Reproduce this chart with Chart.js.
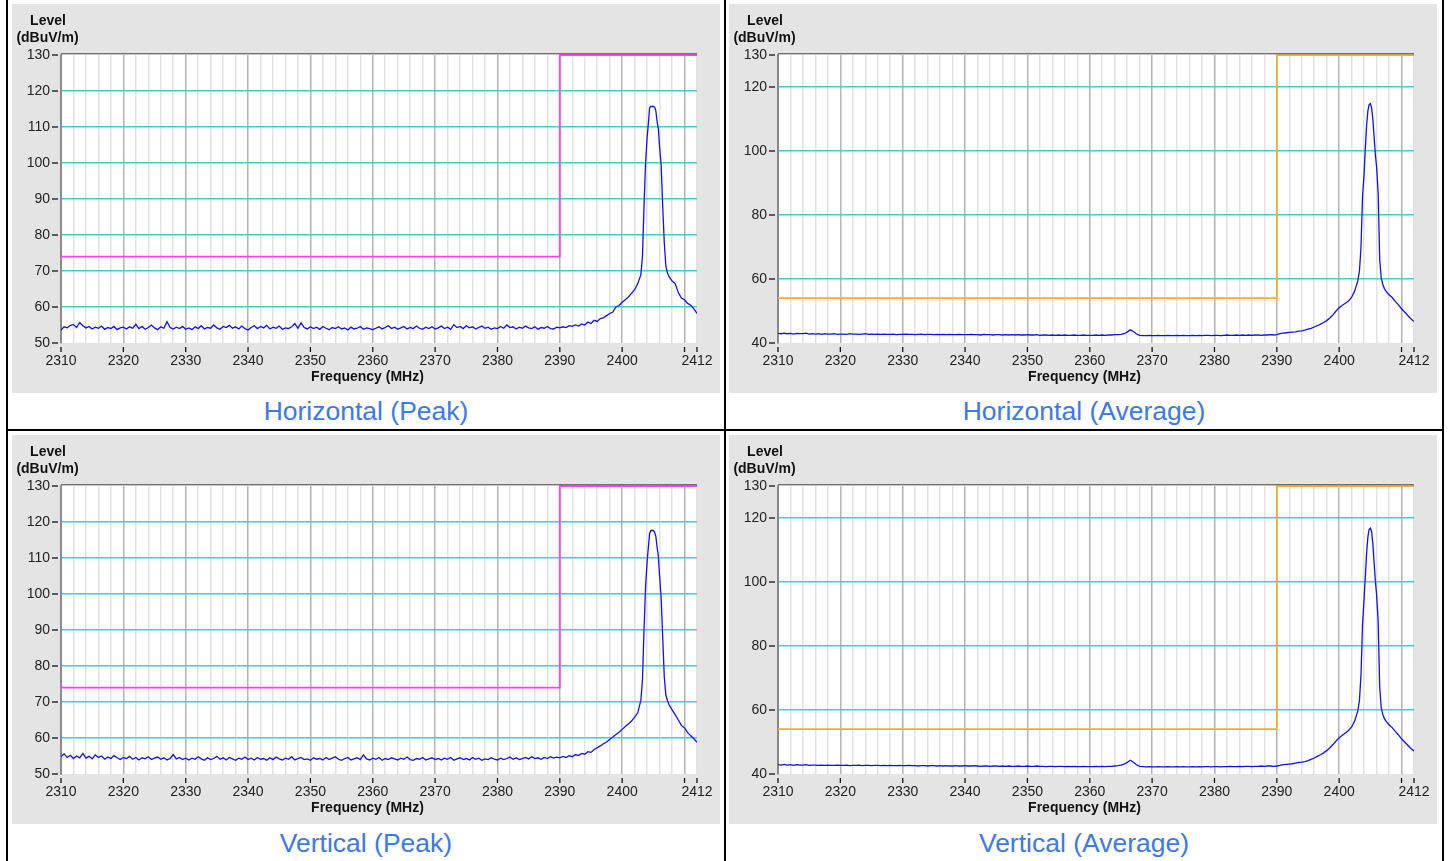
<!DOCTYPE html>
<html>
<head>
<meta charset="utf-8">
<script src="https://cdn.jsdelivr.net/npm/chart.js@4.4.1/dist/chart.umd.min.js"></script>
<style>
  body { margin: 0; width: 1450px; height: 861px; background: #fff; position: relative; overflow: hidden; font-family: "Liberation Sans", Arial, sans-serif; }
  .panel { position: absolute; width: 708px; height: 389px; background: #e4e4e4; }
  .caption { position: absolute; width: 716px; height: 36px; line-height: 36px; text-align: center; font-size: 26.5px; color: #3c78f0; }
  .rule { position: absolute; background: #000; }
</style>
</head>
<body>
<div class="rule" style="left:6px;top:0;width:2px;height:861px"></div>
<div class="rule" style="left:724px;top:0;width:2px;height:861px"></div>
<div class="rule" style="left:1442px;top:0;width:2px;height:861px"></div>
<div class="rule" style="left:6px;top:429px;width:1438px;height:2px"></div>

<div class="panel" style="left:12px;top:4px"><canvas id="hPeak" width="708" height="389"></canvas></div>
<div class="panel" style="left:729px;top:4px"><canvas id="hAvg" width="708" height="389"></canvas></div>
<div class="panel" style="left:12px;top:435px"><canvas id="vPeak" width="708" height="389"></canvas></div>
<div class="panel" style="left:729px;top:435px"><canvas id="vAvg" width="708" height="389"></canvas></div>

<div class="caption" style="left:8px;top:393px">Horizontal (Peak)</div>
<div class="caption" style="left:726px;top:393px">Horizontal (Average)</div>
<div class="caption" style="left:8px;top:825px">Vertical (Peak)</div>
<div class="caption" style="left:726px;top:825px">Vertical (Average)</div>

<script>
// sweep 2310..2402 MHz in 0.5 MHz steps, then the carrier region listed point by point
const sweepStart = 2310;
const sweepStep = 0.5;
const peakFreq = [2402.5, 2403, 2403.25, 2403.5, 2403.75, 2404, 2404.2, 2404.4, 2404.6, 2404.8,
  2405, 2405.2, 2405.4, 2405.6, 2405.8, 2406, 2406.25, 2406.5, 2406.75, 2407,
  2407.25, 2407.5, 2408, 2408.5, 2409, 2409.5, 2410, 2410.5, 2411, 2411.5, 2412];

// Horizontal peak (dBuV/m)
const hpLow = [
  53.6, 54.5, 54.2, 54.9, 55.1, 54.3, 55.7, 54.8, 54.2, 54.6, 53.9, 54.4, 54.1, 54.7, 53.8, 54.3, 54.0, 54.6, 53.7, 54.2, 54.4,
  53.9, 54.5, 54.1, 55.2, 54.0, 54.6, 53.8, 54.3, 55.0, 54.2, 53.7, 54.5, 54.1, 55.9, 54.3, 53.9, 54.4, 54.0, 54.6, 53.8,
  54.2, 53.7, 54.5, 54.0, 54.8, 53.9, 54.3, 54.1, 55.0, 54.2, 53.8, 54.6, 54.3, 54.9, 54.1, 54.5, 53.9, 54.7, 54.0, 53.6,
  54.3, 54.8, 54.0, 54.6, 54.2, 54.9, 53.9, 54.4, 54.1, 54.7, 53.8, 54.2, 54.0, 54.5, 55.4, 54.1, 55.6, 54.3, 53.9, 54.5,
  54.0, 54.4, 53.8, 54.6, 54.1, 53.7, 54.3, 54.0, 54.5, 53.9, 54.2, 53.6, 54.4, 53.9, 54.1, 54.6, 53.8, 54.2, 54.0, 53.7,
  54.1, 54.5, 53.9, 54.3, 54.8, 54.0, 54.4, 53.8, 54.2, 54.6, 53.9, 54.3, 54.0, 54.7, 54.1, 53.8, 54.4, 54.0, 54.5, 53.9,
  54.2, 54.7, 54.0, 54.4, 53.8, 55.1, 54.3, 54.6, 54.0, 54.8, 54.2, 54.5, 53.9, 54.3, 54.7, 54.1, 54.4, 53.8, 54.2, 54.0,
  54.6, 54.1, 55.0, 54.3, 54.5, 53.9, 54.4, 54.1, 54.7, 54.2, 54.0, 54.5, 53.8, 54.3, 54.1, 54.6, 54.0, 53.9, 54.4, 54.2,
  54.5, 54.3, 54.8, 54.6, 55.0, 54.7, 55.3, 55.0, 55.8, 55.4, 56.3, 56.0, 56.8, 57.0, 57.6, 58.2, 58.6, 60.0, 60.4, 61.3,
  62.0, 62.8, 63.8, 64.8];
const hpPeak = [66.5, 69, 74, 88, 100, 107, 111, 115.3, 115.7, 115.7,
  115.7, 115.5, 114.5, 111.5, 109.5, 104.5, 99.5, 88, 78, 71.5,
  69.5, 68.5, 67.2, 66.5, 64, 62.5, 62, 61, 60.5, 59.5, 58.2];

// Horizontal average
const haLow = [
  43.0, 42.9, 43.1, 42.9, 43.0, 42.8, 43.0, 42.9, 42.9, 43.1, 42.8, 42.9, 42.8, 42.9, 42.7, 42.9, 42.8, 42.8, 42.9, 42.7, 42.8,
  42.8, 42.7, 42.9, 42.8, 42.8, 42.7, 42.8, 42.9, 42.7, 42.8, 42.7, 42.8, 42.7, 42.8, 42.7, 42.7, 42.8, 42.6, 42.7, 42.7,
  42.8, 42.7, 42.7, 42.6, 42.7, 42.8, 42.6, 42.7, 42.7, 42.6, 42.7, 42.6, 42.7, 42.6, 42.7, 42.6, 42.6, 42.7, 42.6, 42.6,
  42.6, 42.7, 42.6, 42.6, 42.5, 42.7, 42.6, 42.6, 42.5, 42.6, 42.6, 42.5, 42.6, 42.5, 42.6, 42.5, 42.6, 42.5, 42.5, 42.6,
  42.5, 42.5, 42.6, 42.4, 42.5, 42.5, 42.4, 42.5, 42.4, 42.5, 42.4, 42.5, 42.4, 42.4, 42.5, 42.4, 42.4, 42.5, 42.4, 42.4,
  42.4, 42.5, 42.4, 42.5, 42.4, 42.5, 42.5, 42.6, 42.6, 42.7, 42.9, 43.4, 44.1, 43.6, 42.8, 42.4, 42.3, 42.3, 42.4, 42.3,
  42.3, 42.4, 42.3, 42.3, 42.4, 42.3, 42.3, 42.4, 42.3, 42.4, 42.3, 42.3, 42.4, 42.3, 42.4, 42.3, 42.4, 42.4, 42.3, 42.4,
  42.4, 42.3, 42.4, 42.5, 42.4, 42.4, 42.5, 42.4, 42.5, 42.4, 42.5, 42.4, 42.5, 42.5, 42.4, 42.5, 42.5, 42.6, 42.5, 42.6,
  42.9, 43.1, 43.2, 43.3, 43.4, 43.5, 43.7, 43.8, 44.0, 44.3, 44.6, 45.0, 45.4, 45.9, 46.4, 47.0, 47.8, 48.8, 50.0, 51.0,
  51.8, 52.4, 53.1, 54.3];
const haPeak = [56.3, 59.5, 62.5, 70, 86, 93, 101, 108, 112.5, 114.5,
  114.8, 113.5, 110, 104.5, 99, 95, 87, 66, 60.3, 58.3,
  57.0, 56.2, 55.1, 54.2, 53.0, 51.9, 50.7, 49.7, 48.6, 47.6, 46.7];

// Vertical peak
const vpLow = [
  54.8, 55.6, 54.6, 55.2, 54.3, 55.0, 54.5, 55.7, 54.4, 54.9, 54.2, 55.3, 54.6, 55.0, 54.1, 54.7, 54.3, 55.1, 54.5, 54.0, 54.6,
  54.3, 54.9, 54.1, 54.6, 53.9, 54.5, 54.2, 54.8, 54.0, 54.4, 54.7, 54.1, 54.5, 53.9, 54.3, 55.4, 54.2, 54.6, 54.0, 54.4,
  53.9, 54.4, 54.1, 54.8, 54.2, 53.8, 54.5, 54.0, 54.3, 54.9, 54.1, 54.5, 53.9, 54.6, 54.2, 53.8, 54.4, 54.1, 54.7, 54.0,
  54.4, 53.9, 54.6, 54.1, 54.3, 53.8, 54.5, 54.0, 54.7, 54.2, 53.9, 54.4, 54.1, 54.8, 53.9, 54.3, 54.6, 54.0, 54.2, 53.8,
  54.5, 54.1, 54.3, 53.9, 54.6, 54.0, 54.4, 54.8, 54.1, 53.8, 54.3, 54.6, 53.9, 54.2, 54.5, 54.0, 55.3, 54.2, 53.9, 54.4,
  54.1, 54.6, 53.8, 54.3, 54.0, 54.5, 54.2, 53.9, 54.4, 54.1, 54.7, 54.0, 53.8, 54.3, 54.1, 54.6, 53.9, 54.2, 54.5, 54.0,
  54.3, 53.9, 54.4, 54.1, 54.6, 53.8, 54.2, 54.5, 54.0, 54.3, 53.9, 54.6, 54.1, 54.4, 53.8, 54.2, 54.0, 54.5, 54.1, 53.9,
  54.4, 54.0, 54.3, 54.7, 54.1, 54.5, 54.0, 54.3, 54.6, 54.2, 54.8, 54.3, 54.5, 54.1, 54.6, 54.3, 54.8, 54.4, 54.7, 54.5,
  54.9, 54.6, 55.1, 54.8, 55.4, 55.1, 55.7, 55.5, 56.2, 56.0, 56.8, 57.3, 57.8, 58.4, 58.9, 59.6, 60.3, 61.0, 61.6, 62.4,
  63.2, 63.9, 64.7, 65.8];
const vpPeak = [67, 70.5, 76, 90, 102, 109, 113, 116.8, 117.6, 117.7,
  117.6, 117.2, 116, 113, 110.5, 105, 99, 88, 77, 72,
  70.5, 69.3, 67.8, 66.5, 65, 63.5, 62.8, 61.5, 60.6, 59.8, 58.8];

// Vertical average
const vaLow = [
  42.9, 42.8, 43.0, 42.8, 42.9, 42.7, 42.9, 42.8, 42.8, 42.9, 42.7, 42.8, 42.8, 42.7, 42.8, 42.7, 42.8, 42.7, 42.7, 42.8, 42.7,
  42.7, 42.8, 42.6, 42.7, 42.7, 42.8, 42.6, 42.7, 42.7, 42.6, 42.7, 42.7, 42.6, 42.7, 42.6, 42.7, 42.6, 42.6, 42.7, 42.6,
  42.6, 42.7, 42.6, 42.6, 42.5, 42.6, 42.6, 42.5, 42.6, 42.6, 42.5, 42.6, 42.5, 42.6, 42.5, 42.5, 42.6, 42.5, 42.5, 42.6,
  42.5, 42.5, 42.6, 42.5, 42.4, 42.5, 42.5, 42.4, 42.5, 42.5, 42.4, 42.5, 42.4, 42.5, 42.4, 42.4, 42.5, 42.4, 42.4, 42.5,
  42.4, 42.4, 42.5, 42.4, 42.4, 42.3, 42.4, 42.4, 42.3, 42.4, 42.4, 42.3, 42.4, 42.3, 42.4, 42.3, 42.3, 42.4, 42.3, 42.3,
  42.3, 42.4, 42.3, 42.4, 42.3, 42.4, 42.4, 42.5, 42.6, 42.8, 43.1, 43.6, 44.3, 43.7, 42.9, 42.4, 42.3, 42.2, 42.3, 42.2,
  42.2, 42.3, 42.2, 42.2, 42.3, 42.2, 42.2, 42.3, 42.2, 42.3, 42.2, 42.2, 42.3, 42.2, 42.3, 42.2, 42.3, 42.3, 42.2, 42.3,
  42.3, 42.2, 42.3, 42.3, 42.4, 42.3, 42.3, 42.4, 42.3, 42.4, 42.4, 42.3, 42.4, 42.4, 42.5, 42.4, 42.5, 42.5, 42.4, 42.5,
  42.7, 42.9, 43.0, 43.1, 43.2, 43.4, 43.6, 43.7, 43.9, 44.2, 44.6, 45.0, 45.5, 46.0, 46.6, 47.3, 48.2, 49.2, 50.3, 51.3,
  52.1, 52.8, 53.6, 54.7];
const vaPeak = [56.6, 59.8, 63.0, 71, 87, 95, 102, 109, 114, 116.4,
  116.8, 115.8, 112, 106, 100.5, 96, 88, 67, 60.6, 58.6,
  57.3, 56.5, 55.4, 54.5, 53.3, 52.2, 51.0, 50.0, 49.0, 48.0, 47.2];

// limit lines
const limitFreq = [2310, 2390, 2390, 2412];
const peakLimit = [74, 74, 130, 130];
const avgLimit = [54, 54, 130, 130];

// axes
const xGridValues = [];
for (let f = 2310; f <= 2412; f += 2) xGridValues.push(f);
const xLabelValues = [2310, 2320, 2330, 2340, 2350, 2360, 2370, 2380, 2390, 2400, 2412];
const xMarkValues = xLabelValues.concat([2410]);
const peakYTicks = [50, 60, 70, 80, 90, 100, 110, 120, 130];
const avgYTicks = [40, 60, 80, 100, 120, 130];

Chart.defaults.font.family = '"Liberation Sans", Arial, sans-serif';

function trace(low, peak) {
  const pts = low.map((v, i) => ({ x: sweepStart + i * sweepStep, y: v }));
  return pts.concat(peak.map((v, i) => ({ x: peakFreq[i], y: v })));
}

// white plot area, top frame line, tick marks and axis titles
const frame = {
  id: 'frame',
  beforeDraw(chart) {
    const { ctx, chartArea: a } = chart;
    ctx.save();
    ctx.fillStyle = '#fff';
    ctx.fillRect(a.left, a.top, a.right - a.left, a.bottom - a.top);
    ctx.restore();
  },
  afterDraw(chart) {
    const { ctx, chartArea: a, scales } = chart;
    ctx.save();
    ctx.strokeStyle = '#707070';
    ctx.lineWidth = 1.2;
    ctx.beginPath(); ctx.moveTo(a.left, a.top - 1.4); ctx.lineTo(a.right, a.top - 1.4); ctx.stroke();
    ctx.strokeStyle = '#111';
    ctx.lineWidth = 1.3;
    scales.y.ticks.forEach(t => {
      const y = scales.y.getPixelForValue(t.value);
      ctx.beginPath(); ctx.moveTo(a.left - 9, y); ctx.lineTo(a.left - 3, y); ctx.stroke();
    });
    xMarkValues.forEach(v => {
      const x = scales.x.getPixelForValue(v);
      ctx.beginPath(); ctx.moveTo(x, a.bottom + 4); ctx.lineTo(x, a.bottom + 9); ctx.stroke();
    });
    ctx.fillStyle = '#111';
    ctx.font = 'bold 14px "Liberation Sans", Arial, sans-serif';
    ctx.textAlign = 'center';
    ctx.textBaseline = 'middle';
    ctx.fillText('Level', 36, 17.5);
    ctx.fillText('(dBuV/m)', 35.5, 34.5);
    ctx.fillText('Frequency (MHz)', 355.5, 373.5);
    ctx.restore();
  }
};

function makeChart(id, low, peak, limit, limitColor, yMin, yTicks) {
  return new Chart(document.getElementById(id), {
    type: 'line',
    data: {
      datasets: [
        { data: trace(low, peak), borderColor: '#1010ff', borderWidth: 1.3, pointRadius: 0, tension: 0 },
        { data: limitFreq.map((f, i) => ({ x: f, y: limit[i] })), borderColor: limitColor, borderWidth: 1.8, pointRadius: 0, clip: false }
      ]
    },
    options: {
      responsive: false,
      animation: false,
      events: [],
      layout: { padding: { top: 51, right: 23, left: 0, bottom: 0 } },
      plugins: { legend: { display: false }, tooltip: { enabled: false } },
      scales: {
        x: {
          type: 'linear', min: 2310, max: 2412,
          afterBuildTicks: s => { s.ticks = xGridValues.map(v => ({ value: v })); },
          afterFit: s => { s.height = 50; s.paddingLeft = 0; s.paddingRight = 0; },
          border: { display: false },
          grid: {
            drawTicks: false, lineWidth: 1.5,
            color: c => (c.tick && c.tick.value % 10 === 0) ? '#b4b4b4' : '#e2e2e2'
          },
          ticks: {
            autoSkip: false, maxRotation: 0, padding: 10, color: '#222', font: { size: 14 },
            callback: v => xLabelValues.includes(v) ? String(v) : ''
          }
        },
        y: {
          min: yMin, max: 130,
          afterBuildTicks: s => { s.ticks = yTicks.map(v => ({ value: v })); },
          afterFit: s => { s.width = 49; s.paddingTop = 0; s.paddingBottom = 0; },
          border: { color: '#8a8a8a', width: 2 },
          grid: {
            drawTicks: false, lineWidth: 1.5,
            color: c => (c.tick && (c.tick.value === 130 || c.tick.value === yMin)) ? 'rgba(0,0,0,0)' : '#3fcfcf'
          },
          ticks: { padding: 11, color: '#222', font: { size: 14 }, callback: v => String(v) }
        }
      }
    },
    plugins: [frame]
  });
}

makeChart('hPeak', hpLow, hpPeak, peakLimit, '#ff40ff', 50, peakYTicks);
makeChart('hAvg', haLow, haPeak, avgLimit, '#ffaa33', 40, avgYTicks);
makeChart('vPeak', vpLow, vpPeak, peakLimit, '#ff40ff', 50, peakYTicks);
makeChart('vAvg', vaLow, vaPeak, avgLimit, '#ffaa33', 40, avgYTicks);
</script>
</body>
</html>
